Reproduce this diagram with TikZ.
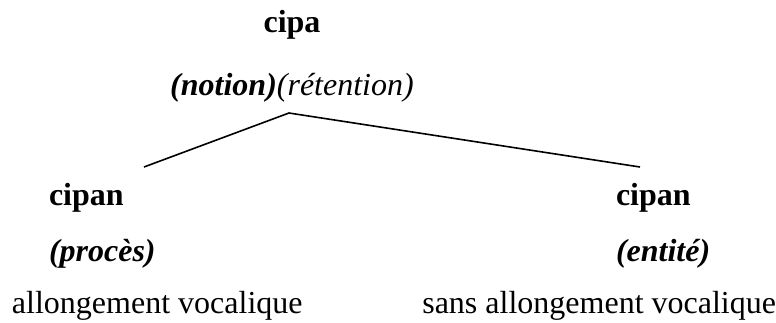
\documentclass[tikz,border=0pt]{standalone}
\usepackage{fontspec}
\setmainfont{Liberation Serif}
\begin{document}
\begin{tikzpicture}[x=1pt,y=-1pt,
  txt/.style={inner sep=0pt,outer sep=0pt,font=\fontsize{32}{38}\selectfont},
  head/.style={txt,font=\fontsize{32}{38}\selectfont\bfseries},
  gloss/.style={txt,font=\fontsize{32}{38}\selectfont\bfseries\itshape},
  branch/.style={line width=1.6pt}]
\useasboundingbox (0,0) rectangle (776,322);
\node[head,anchor=base] (cipa) at (292,32) {cipa};
\node[txt,anchor=base] (notion) at (292,95) {\textbf{\textit{(notion)}}\textit{(rétention)}};
\coordinate (apex) at (289,113);
\coordinate (lend) at (144,167);
\coordinate (rend) at (640,167);
\draw[branch] (lend) -- (apex) -- (rend);
\node[head,anchor=base west] (cipanL) at (49,205) {cipan};
\node[gloss,anchor=base west] (proces) at (49,261) {(procès)};
\node[txt,anchor=base west] (allong) at (12,313) {allongement vocalique};
\node[head,anchor=base west] (cipanR) at (616,205) {cipan};
\node[gloss,anchor=base west] (entite) at (616,261) {(entité)};
\node[txt,anchor=base east] (sans) at (776,313) {sans allongement vocalique};
\end{tikzpicture}
\end{document}
